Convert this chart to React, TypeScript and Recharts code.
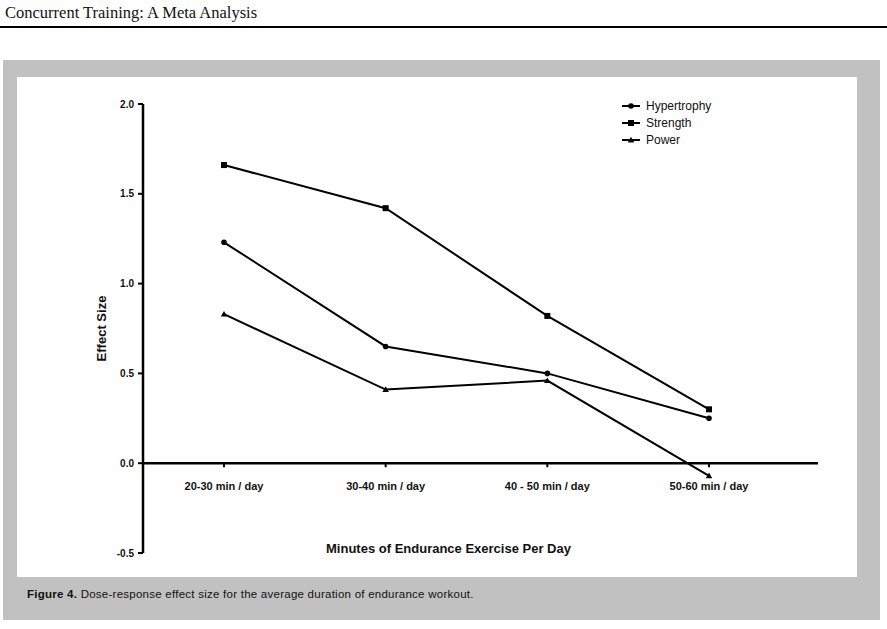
import { Legend, Line, LineChart, ReferenceLine, XAxis, YAxis } from "recharts";

const categories = ["20-30 min / day", "30-40 min / day", "40 - 50 min / day", "50-60 min / day"];
const hypertrophy = [1.23, 0.65, 0.5, 0.25];
const strength = [1.66, 1.42, 0.82, 0.3];
const power = [0.83, 0.41, 0.46, -0.07];
const yTicks = [-0.5, 0, 0.5, 1.0, 1.5, 2.0];
const seriesOrder = ["hypertrophy", "strength", "power"];

const Y_MIN = -0.5;
const Y_MAX = 2.0;

const data = categories.map((name, i) => ({
  name,
  hypertrophy: hypertrophy[i],
  strength: strength[i],
  power: power[i],
}));

// plot box inside the 887x629 svg
const W = 887;
const H = 629;
const PLOT_TOP = 104;
const PLOT_LEFT = 143;
const PLOT_RIGHT = 818;
const PLOT_BOTTOM = 553;
const PLOT_H = PLOT_BOTTOM - PLOT_TOP;
// distance from bottom of the plot up to the zero line
const ZERO_SHIFT = (PLOT_H * (0 - Y_MIN)) / (Y_MAX - Y_MIN);

const SANS = '"Liberation Sans", Arial, sans-serif';

function marker(kind: string, cx: number, cy: number, key?: string) {
  if (kind === "strength") {
    return <rect key={key} x={cx - 3} y={cy - 3} width={6} height={6} fill="#000" />;
  }
  if (kind === "power") {
    return (
      <polygon
        key={key}
        points={`${cx},${cy - 3.2} ${cx + 3.2},${cy + 2.4} ${cx - 3.2},${cy + 2.4}`}
        fill="#000"
      />
    );
  }
  return <circle key={key} cx={cx} cy={cy} r={2.8} fill="#000" />;
}

const dotFor = (kind: string) => (props: any) => marker(kind, props.cx, props.cy, `${kind}-${props.index}`);

function CategoryTick(props: any) {
  const { x, y, payload } = props;
  const zy = y - ZERO_SHIFT;
  return (
    <g>
      <line x1={x} x2={x} y1={zy} y2={zy + 4} stroke="#000" strokeWidth={2} />
      <text x={x} y={zy + 27} textAnchor="middle" fontFamily={SANS} fontSize={11} fontWeight="bold" fill="#111">
        {payload.value}
      </text>
    </g>
  );
}

function LegendBox(props: any) {
  const payload = [...(props.payload || [])].sort(
    (a: any, b: any) => seriesOrder.indexOf(a.dataKey) - seriesOrder.indexOf(b.dataKey)
  );
  return (
    <div style={{ fontFamily: SANS, fontSize: 12, color: "#111" }}>
      {payload.map((item: any) => (
        <div key={item.value} style={{ display: "flex", alignItems: "center", height: 17 }}>
          <svg width={24} height={12} style={{ marginRight: 2 }}>
            <line x1={2} x2={20} y1={6} y2={6} stroke="#000" strokeWidth={2} />
            {marker(item.dataKey, 11, 6)}
          </svg>
          <span>{item.value}</span>
        </div>
      ))}
    </div>
  );
}

export default function App() {
  return (
    <div style={{ position: "absolute", left: 0, top: 0, width: W, height: H, background: "#fff", overflow: "hidden" }}>
      <div
        style={{
          position: "absolute",
          left: 5,
          top: 3,
          fontFamily: '"Liberation Serif", serif',
          fontSize: 16.5,
          color: "#111",
          whiteSpace: "nowrap",
        }}
      >
        Concurrent Training: A Meta Analysis
      </div>
      <div style={{ position: "absolute", left: 0, top: 26, width: W, height: 1.5, background: "#000" }} />
      <div style={{ position: "absolute", left: 3, top: 60, width: 877, height: 560, background: "#c1c1c1" }} />
      <div style={{ position: "absolute", left: 17, top: 77, width: 840, height: 500, background: "#fff" }} />
      <div
        style={{
          position: "absolute",
          left: 27,
          top: 588,
          fontFamily: SANS,
          fontSize: 11.5,
          letterSpacing: 0.25,
          color: "#111",
          whiteSpace: "nowrap",
        }}
      >
        <b>Figure 4.</b> Dose-response effect size for the average duration of endurance workout.
      </div>
      <div style={{ position: "absolute", left: 0, top: 0 }}>
        <LineChart
          width={W}
          height={H}
          data={data}
          margin={{ top: PLOT_TOP, right: W - PLOT_RIGHT, left: 0, bottom: 0 }}
        >
          <XAxis
            dataKey="name"
            height={H - PLOT_BOTTOM}
            padding={{ left: 81, right: 109 }}
            axisLine={false}
            tickLine={false}
            tickSize={0}
            tickMargin={0}
            interval={0}
            tick={<CategoryTick />}
            label={{
              value: "Minutes of Endurance Exercise Per Day",
              position: "top",
              offset: 0,
              dx: -32,
              style: { fontFamily: SANS, fontSize: 13, fontWeight: "bold", fill: "#111" },
            }}
          />
          <YAxis
            width={PLOT_LEFT}
            domain={[Y_MIN, Y_MAX]}
            ticks={yTicks}
            interval={0}
            tickFormatter={(v: number) => v.toFixed(1)}
            axisLine={{ stroke: "#000", strokeWidth: 2.5 }}
            tickLine={{ stroke: "#000", strokeWidth: 2 }}
            tickSize={5}
            tickMargin={4}
            tick={{ fontFamily: SANS, fontSize: 10, fontWeight: "bold", fill: "#111" }}
            label={{
              value: "Effect Size",
              angle: -90,
              position: "center",
              dx: 30,
              style: { fontFamily: SANS, fontSize: 13, fontWeight: "bold", fill: "#111" },
            }}
          />
          <ReferenceLine y={0} stroke="#000" strokeWidth={2.5} ifOverflow="extendDomain" />
          <Legend
            layout="vertical"
            align="center"
            verticalAlign="middle"
            content={<LegendBox />}
            wrapperStyle={{ top: 97, left: 620, width: "auto", right: "auto", bottom: "auto" }}
          />
          <Line
            type="linear"
            dataKey="hypertrophy"
            name="Hypertrophy"
            stroke="#000"
            strokeWidth={2}
            dot={dotFor("hypertrophy")}
            isAnimationActive={false}
          />
          <Line
            type="linear"
            dataKey="strength"
            name="Strength"
            stroke="#000"
            strokeWidth={2}
            dot={dotFor("strength")}
            isAnimationActive={false}
          />
          <Line
            type="linear"
            dataKey="power"
            name="Power"
            stroke="#000"
            strokeWidth={2}
            dot={dotFor("power")}
            isAnimationActive={false}
          />
        </LineChart>
      </div>
    </div>
  );
}
